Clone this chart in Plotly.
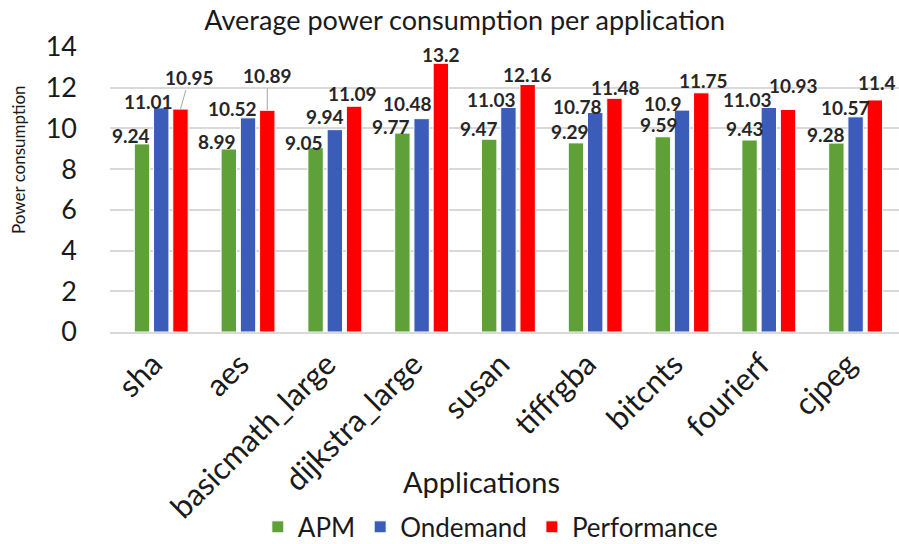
import plotly.graph_objects as go

apps = ["sha", "aes", "basicmath_large", "dijkstra_large", "susan",
        "tiffrgba", "bitcnts", "fourierf", "cjpeg"]
apm = [9.24, 8.99, 9.05, 9.77, 9.47, 9.29, 9.59, 9.43, 9.28]
ondemand = [11.01, 10.52, 9.94, 10.48, 11.03, 10.78, 10.9, 11.03, 10.57]
performance = [10.95, 10.89, 11.09, 13.2, 12.16, 11.48, 11.75, 10.93, 11.4]

series_names = ["APM", "Ondemand", "Performance"]
colors = ["#5FA138", "#3B5CB8", "#FF0000"]

# label placement offsets (pixels) relative to each bar top
label_dx = [
    [-11, -12, -12, -11, -10, -6, -4, -5, -10],
    [-13, -16, -10, -14, -17, -18, -19, -21, -10],
    [9, 0, -2, 0, 0, 1, 2, 5, 2],
]
label_dy = [
    [8, 7, 5, 7, 11, 11, 12, 12, 9],
    [6, 9, 13, 15, 8, 6, 7, 8, 9],
    [32, 35, 13, 9, 10, 11, 12, 24, 17],
]
leader = [[False] * 9, [False] * 9, [True, True] + [False] * 7]

FONT = "Lato, 'Open Sans', sans-serif"
TXT = "#1a1a1a"
BARGAP = 0.335

fig = go.Figure()
all_vals = [apm, ondemand, performance]
for name, vals, col in zip(series_names, all_vals, colors):
    fig.add_trace(go.Bar(
        x=apps, y=vals, name=name,
        marker=dict(color=col, line=dict(color="white", width=1)),
    ))

slot = (1 - BARGAP) / 3
for k, vals in enumerate(all_vals):
    for i, v in enumerate(vals):
        xpos = i + (k - 1) * slot
        if leader[k][i]:
            fig.add_annotation(
                x=xpos, y=v, xref="x", yref="y",
                text="<b>%s</b>" % v, showarrow=True, arrowhead=0,
                arrowwidth=1, arrowcolor="#A6A6A6",
                ax=label_dx[k][i], ay=-label_dy[k][i],
                font=dict(family=FONT, size=19, color="#262626"),
            )
        else:
            fig.add_annotation(
                x=xpos, y=v, xref="x", yref="y",
                text="<b>%s</b>" % v, showarrow=False,
                xshift=label_dx[k][i], yshift=label_dy[k][i],
                yanchor="middle",
                font=dict(family=FONT, size=19, color="#262626"),
            )

# axis titles as annotations
fig.add_annotation(text="Applications", xref="paper", yref="paper",
                   x=0.471, y=-0.526, showarrow=False, xanchor="center", yanchor="middle",
                   font=dict(family=FONT, size=29, color=TXT))
fig.add_annotation(text="Power consumption", xref="paper", yref="paper",
                   x=-0.1166, y=0.6035, showarrow=False, textangle=-90,
                   xanchor="center", yanchor="middle",
                   font=dict(family=FONT, size=17, color=TXT))

fig.update_layout(
    width=899, height=544,
    margin=dict(l=110, r=0, t=47, b=212, autoexpand=False),
    paper_bgcolor="white", plot_bgcolor="white",
    barmode="group", bargap=BARGAP, bargroupgap=0.2,
    title=dict(text="Average power consumption per application",
               x=0.517, xanchor="center", y=0.963, yanchor="middle",
               font=dict(family=FONT, size=27, color=TXT)),
    font=dict(family=FONT, color=TXT),
    showlegend=True,
    legend=dict(orientation="h", x=0.482, xanchor="center", y=-0.684,
                yanchor="middle", font=dict(family=FONT, size=26, color=TXT),
                itemwidth=30, traceorder="normal"),
)
fig.update_xaxes(
    automargin=False,
    tickangle=-45, tickfont=dict(family=FONT, size=31, color=TXT),
    ticklabelshift=-8,
    showline=True, linecolor="#D9D9D9", linewidth=1.5,
)
fig.update_yaxes(
    automargin=False,
    range=[0, 14], dtick=2, showgrid=True, gridcolor="#D9D9D9", gridwidth=1.5,
    tickfont=dict(family=FONT, size=27, color=TXT),
    ticklabelstandoff=32, zeroline=False,
)

fig.write_html("out.html",
               config={"displayModeBar": False},
               post_script="document.body.style.margin='0';document.body.style.overflow='hidden';")
